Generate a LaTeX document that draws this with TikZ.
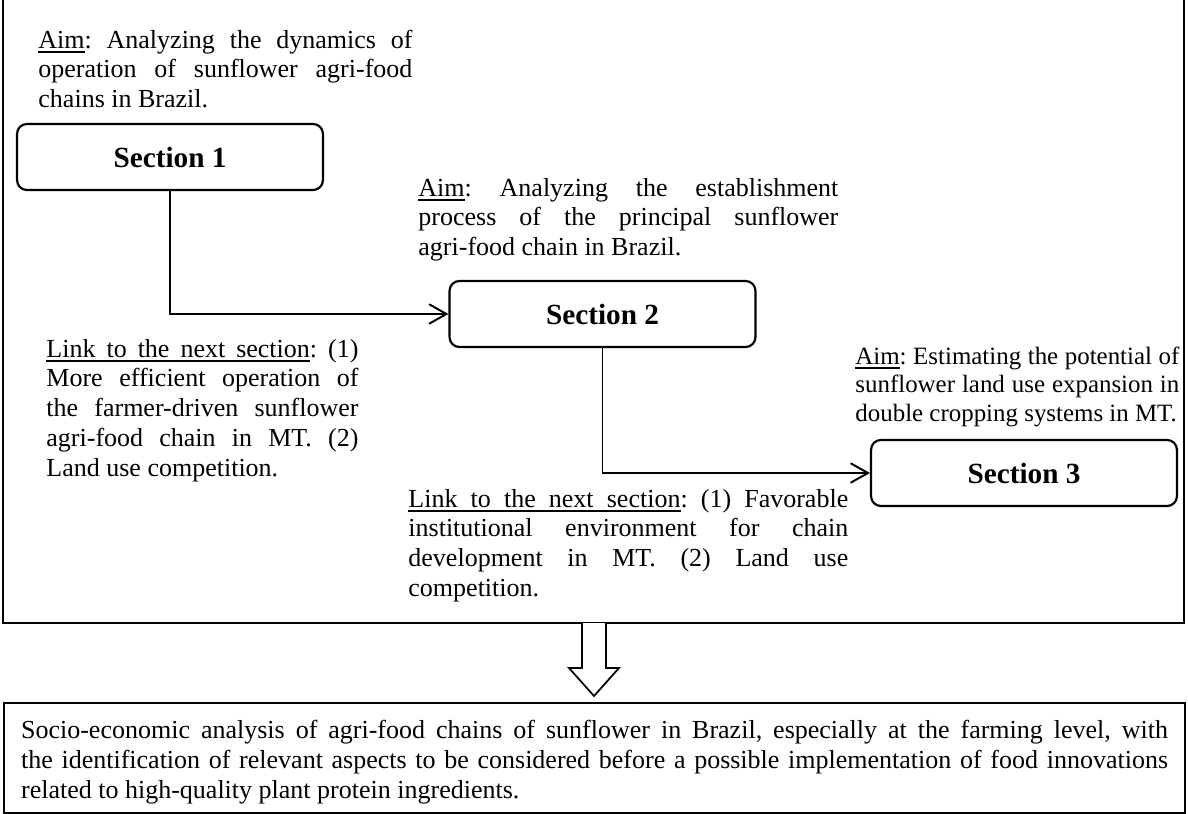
\documentclass[tikz,border=0pt]{standalone}
\usepackage{fontspec}
\setmainfont{Liberation Serif}
\usetikzlibrary{arrows.meta,positioning}
\tolerance=9999 \hbadness=10000 \hyphenpenalty=10000 \exhyphenpenalty=10000
\frenchspacing
% underlined word and underlined (stretchable) space
\newcommand{\ulw}[1]{\setbox0=\hbox{#1}\rlap{\vrule height -1.4pt depth 2.2pt width \wd0}\box0}
\newcommand{\ulsp}{\leaders\hrule height -1.4pt depth 2.2pt\hskip\fontdimen2\font
  plus\fontdimen3\font minus\fontdimen4\font\relax}

\begin{document}
\begin{tikzpicture}[x=0.4615pt,y=-0.4615pt,
  secbox/.style={draw,line width=1pt,rounded corners=4.6pt,minimum width=141.2pt,
    minimum height=30.5pt,inner sep=0pt,font=\fontsize{13.5}{16}\selectfont\bfseries},
  aimtext/.style={anchor=base west,inner sep=0pt,align=justify,
    font=\fontsize{12}{13.8}\selectfont},
  secarr/.style={-{Straight Barb[length=8pt,width=9pt,line width=0.9pt]},line width=0.9pt}
]
  \useasboundingbox (0,0) rectangle (1188,814);

  % Frame round the three sections
  \draw[line width=1pt] (3,0) |- (1184,623) -- (1184,0);

  % Section 1
  \node[aimtext,text width=172.6pt] (aim1) at (38,48) {
    \ulw{Aim}: Analyzing the dynamics of\linebreak
    operation of sunflower agri-food\linebreak
    chains in Brazil.};
  \node[secbox] (sec1) at (170,157) {Section 1};
  \node[aimtext,text width=144pt] (link1) at (46,357) {
    \ulw{Link}\ulsp\ulw{to}\ulsp\ulw{the}\ulsp\ulw{next}\ulsp\ulw{section}: (1)\linebreak
    More efficient operation of\linebreak
    the farmer-driven sunflower\linebreak
    agri-food chain in MT. (2)\linebreak
    Land use competition.};

  % Section 2
  \node[aimtext,text width=193.8pt] (aim2) at (418,196) {
    \ulw{Aim}: Analyzing the establishment\linebreak
    process of the principal sunflower\linebreak
    agri-food chain in Brazil.};
  \node[secbox] (sec2) at (602.5,314) {Section 2};
  \node[aimtext,text width=203pt] (link2) at (408,507) {
    \ulw{Link}\ulsp\ulw{to}\ulsp\ulw{the}\ulsp\ulw{next}\ulsp\ulw{section}: (1) Favorable\linebreak
    institutional environment for chain\linebreak
    development in MT. (2) Land use\linebreak
    competition.};

  % Section 3
  \node[aimtext,text width=149.5pt,font=\fontsize{11.5}{13.2}\selectfont] (aim3) at (855,364) {
    \ulw{Aim}: Estimating the potential of\linebreak
    sunflower land use expansion in\linebreak
    double cropping systems in MT.};
  \node[secbox] (sec3) at (1024,473) {Section 3};

  % Links between sections
  \draw[secarr] (sec1.south) |- (sec2.west);
  \draw[secarr] (sec2.south) |- (sec3.west);

  % Block arrow down to the summary
  \draw[line width=0.8pt,fill=white] (582,623) -- (582,668) -- (569,668) -- (594,696)
    -- (619,668) -- (606,668) -- (606,623);

  % Summary
  \node[draw,line width=1pt,anchor=north west,inner xsep=7.85pt,inner ysep=0pt,
    minimum height=50.8pt,text width=529.3pt,align=justify,
    font=\fontsize{12}{13.8}\selectfont] (summary) at (3,702) {
    \rule{0pt}{12.5pt}Socio-economic analysis of agri-food chains of sunflower in Brazil, especially at the farming level, with\linebreak
    the identification of relevant aspects to be considered before a possible implementation of food innovations\linebreak
    related to high-quality plant protein ingredients.};
\end{tikzpicture}
\end{document}
